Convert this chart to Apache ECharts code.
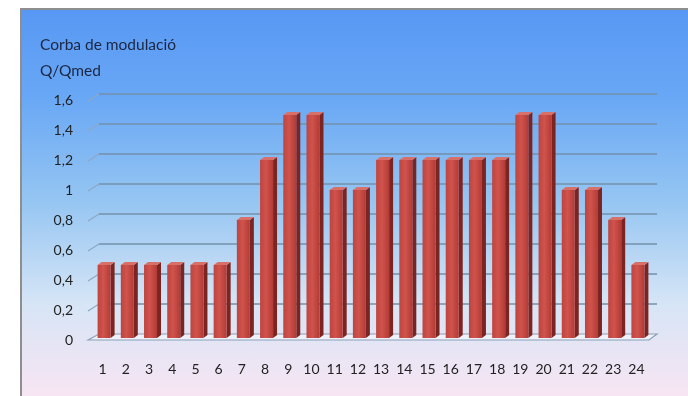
<!DOCTYPE html>
<html>
<head>
<meta charset="utf-8">
<script src="https://cdn.jsdelivr.net/npm/echarts@6/dist/echarts.min.js"></script>
<style>
  html, body { margin: 0; padding: 0; background: #fff; }
  #chart {
    position: absolute; left: 20px; top: 8px;
    width: 666px; height: 386px;
    border-left: 2px solid #8e8e8e; border-top: 2px solid #8e8e8e;
    background: linear-gradient(to bottom, #5898f4 0%, #68a7f5 22%, #96c6f2 50%, #d6e5f6 76%, #f8e5f3 100%);
  }
</style>
</head>
<body>
<div id="chart"></div>
<script>
// dades
const hours = ['1', '2', '3', '4', '5', '6', '7', '8', '9', '10', '11', '12',
  '13', '14', '15', '16', '17', '18', '19', '20', '21', '22', '23', '24']
const qRatio = [0.5, 0.5, 0.5, 0.5, 0.5, 0.5, 0.8, 1.2, 1.5, 1.5, 1, 1,
  1.2, 1.2, 1.2, 1.2, 1.2, 1.2, 1.5, 1.5, 1, 1, 0.8, 0.5]
const yTicks = [0, 0.2, 0.4, 0.6, 0.8, 1, 1.2, 1.4, 1.6]

const fmt = v => String(+v.toFixed(1)).replace('.', ',')

const chart = echarts.init(document.getElementById('chart'))

// parets del fons: línies de la graella i el terra
function renderWall(params, api) {
  const cs = params.coordSys
  const v = api.value(1)
  const p = api.coord([0, v])
  const y = p[1]
  const x0 = cs.x
  const x1 = cs.x + cs.width
  if (v === 0) {
    return {
      type: 'polygon',
      shape: { points: [[x0 - 5, y], [x0 + 6, y - 6], [x1 + 7, y - 6], [x1 - 1, y]] },
      style: { fill: '#eef1f9', stroke: '#8aa0b8', lineWidth: 1.2 }
    }
  }
  return {
    type: 'group',
    children: [
      { type: 'line', shape: { x1: x0 - 5, y1: y + 1, x2: x0 + 6, y2: y - 6 }, style: { stroke: '#8ea8c2', lineWidth: 1.2 } },
      { type: 'line', shape: { x1: x0 + 6, y1: y - 6, x2: x1 + 7, y2: y - 6 }, style: { stroke: '#7390ab', lineWidth: 1.5 } }
    ]
  }
}

// barres amb efecte 3D
function renderBar(params, api) {
  const i = api.value(0)
  const top = api.coord([i, api.value(1)])
  const base = api.coord([i, 0])
  const xl = top[0] - 7
  const xr = top[0] + 6
  const yt = top[1]
  const yb = base[1] - 2
  const d = 4
  const h = 3
  return {
    type: 'group',
    children: [
      {
        type: 'polygon',
        shape: { points: [[xr, yt], [xr + d, yt - h], [xr + d, yb - h], [xr, yb]] },
        style: { fill: '#7c2421' }
      },
      {
        type: 'polygon',
        shape: { points: [[xl, yt], [xl + d, yt - h], [xr + d, yt - h], [xr, yt]] },
        style: { fill: '#d8706a' }
      },
      {
        type: 'rect',
        shape: { x: xl, y: yt, width: xr - xl, height: yb - yt },
        style: {
          fill: new echarts.graphic.LinearGradient(0, 0, 1, 0, [
            { offset: 0, color: '#bf443f' },
            { offset: 0.45, color: '#d0534c' },
            { offset: 1, color: '#b23b36' }
          ])
        }
      }
    ]
  }
}

chart.setOption({
  animation: false,
  title: {
    text: 'Corba de modulació\nQ/Qmed',
    left: 18,
    top: 22,
    padding: 0,
    textStyle: {
      fontFamily: 'Lato',
      fontSize: 15.5,
      fontWeight: 'normal',
      color: '#1c2640',
      lineHeight: 26
    }
  },
  grid: {
    left: 71,
    right: 38,
    top: 90,
    bottom: 56
  },
  xAxis: {
    type: 'category',
    data: hours,
    axisLine: { show: false },
    axisTick: { show: false },
    axisLabel: {
      margin: 22,
      fontFamily: 'Lato',
      fontSize: 14,
      color: '#222',
      padding: [0, 4, 0, 0]
    }
  },
  yAxis: {
    type: 'value',
    min: 0,
    max: 1.6,
    interval: 0.2,
    splitLine: { show: false },
    axisLine: { show: false },
    axisTick: { show: false },
    axisLabel: {
      margin: 20,
      fontFamily: 'Lato',
      fontSize: 14,
      color: '#222',
      padding: [6, 0, 0, 0],
      formatter: fmt
    }
  },
  series: [
    {
      type: 'custom',
      z: 1,
      silent: true,
      clip: false,
      renderItem: renderWall,
      data: yTicks.map(v => [0, v])
    },
    {
      type: 'custom',
      z: 2,
      clip: false,
      renderItem: renderBar,
      data: qRatio.map((v, i) => [i, v])
    }
  ]
})
</script>
</body>
</html>
